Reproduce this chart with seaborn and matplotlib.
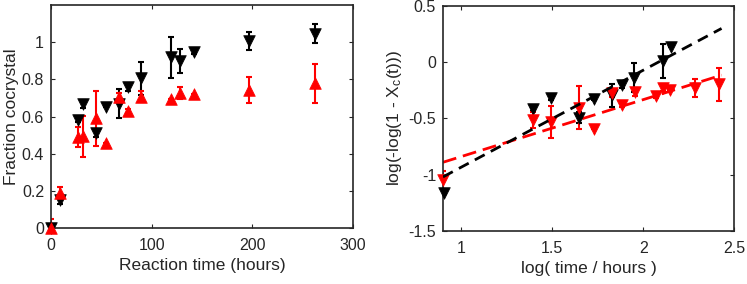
import numpy as np
import pandas as pd
import matplotlib
matplotlib.use("Agg")
import matplotlib.pyplot as plt
import seaborn as sns

# left panel: fraction cocrystal vs reaction time
time_black = [0, 9, 26.5, 32, 44.7, 54.6, 67.8, 77, 89.4, 119, 128.4, 142, 197, 262]
frac_black = [0.0, 0.15, 0.58, 0.667, 0.51, 0.65, 0.67, 0.757, 0.805, 0.92, 0.90, 0.948, 1.007, 1.047]
err_black = [0.0, 0.02, 0.01, 0.02, 0.02, 0.0, 0.08, 0.02, 0.09, 0.11, 0.065, 0.01, 0.05, 0.05]

time_red = [0, 9, 26.5, 32, 44.7, 54.6, 67.8, 77, 89.4, 119, 128.4, 142, 197, 262]
frac_red = [0.0, 0.19, 0.49, 0.495, 0.59, 0.458, 0.706, 0.63, 0.706, 0.694, 0.727, 0.719, 0.742, 0.78]
err_red = [0.05, 0.03, 0.055, 0.11, 0.15, 0.0, 0.02, 0.01, 0.03, 0.0, 0.03, 0.0, 0.07, 0.105]

# right panel: log(-log(1 - Xc)) vs log time
logt_black = [0.903, 1.397, 1.495, 1.645, 1.727, 1.828, 1.883, 1.947, 2.106, 2.152]
avr_black = [-1.16, -0.42, -0.315, -0.494, -0.33, -0.295, -0.205, -0.137, 0.012, 0.131]
avr_err_black = [0.01, 0.01, 0.02, 0.05, 0.01, 0.1, 0.02, 0.13, 0.15, 0.0]

logt_red = [0.90, 1.397, 1.495, 1.645, 1.727, 1.828, 1.883, 1.956, 2.07, 2.106, 2.148, 2.286, 2.418]
avr_red = [-1.045, -0.515, -0.533, -0.405, -0.59, -0.277, -0.384, -0.265, -0.30, -0.226, -0.25, -0.226, -0.196]
avr_err_red = [0.08, 0.07, 0.145, 0.19, 0.0, 0.03, 0.01, 0.04, 0.02, 0.03, 0.01, 0.08, 0.145]

# fitted lines (end points)
fit_x = [0.9, 2.43]
fit_black = [-1.02, 0.30]
fit_red = [-0.89, -0.115]

sns.set_style("ticks")
plt.rcParams['font.family'] = ['Liberation Sans', 'DejaVu Sans']
plt.rcParams['mathtext.fontset'] = 'custom'
plt.rcParams['mathtext.rm'] = 'Liberation Sans'
plt.rcParams['mathtext.it'] = 'Liberation Sans'

fig = plt.figure(figsize=(7.47, 2.84), dpi=100)
ax1 = fig.add_axes([0.0683, 0.197, 0.404, 0.785])
ax2 = fig.add_axes([0.593, 0.187, 0.390, 0.792])

RED = '#FF0000'
BLACK = '#000000'
MS = 70

# ---- left panel
ax1.errorbar(time_black, frac_black, yerr=err_black, fmt='none', ecolor=BLACK,
             elinewidth=1.5, capsize=2.5, capthick=1.5, zorder=2)
ax1.errorbar(time_red, frac_red, yerr=err_red, fmt='none', ecolor=RED,
             elinewidth=1.5, capsize=2.5, capthick=1.5, zorder=2)
sns.scatterplot(x=time_black, y=frac_black, marker='v', color=BLACK, s=MS,
                edgecolor=BLACK, linewidth=0.5, ax=ax1, zorder=3, clip_on=False)
sns.scatterplot(x=time_red, y=frac_red, marker='^', color=RED, s=MS,
                edgecolor=RED, linewidth=0.5, ax=ax1, zorder=3, clip_on=False)
ax1.set_xlim(0, 300)
ax1.set_ylim(0, 1.2)
ax1.set_xticks([0, 100, 200, 300])
ax1.set_yticks([0, 0.2, 0.4, 0.6, 0.8, 1.0])
ax1.set_yticklabels(['0', '0.2', '0.4', '0.6', '0.8', '1'])
ax1.set_xlabel('Reaction time (hours)', fontsize=12.5, labelpad=4)
ax1.set_ylabel('Fraction cocrystal', fontsize=12.5, labelpad=2)

# ---- right panel
sns.lineplot(x=fit_x, y=fit_black, color=BLACK, linewidth=2, ax=ax2, zorder=4)
sns.lineplot(x=fit_x, y=fit_red, color=RED, linewidth=2, ax=ax2, zorder=1)
ax2.lines[0].set_dashes([4, 2.5])
ax2.lines[1].set_dashes([5, 2.5])
ax2.errorbar(logt_black, avr_black, yerr=avr_err_black, fmt='none', ecolor=BLACK,
             elinewidth=1.5, capsize=2.5, capthick=1.5, zorder=2)
ax2.errorbar(logt_red, avr_red, yerr=avr_err_red, fmt='none', ecolor=RED,
             elinewidth=1.5, capsize=2.5, capthick=1.5, zorder=2)
sns.scatterplot(x=logt_black, y=avr_black, marker='v', color=BLACK, s=MS,
                edgecolor=BLACK, linewidth=0.5, ax=ax2, zorder=3, clip_on=False)
sns.scatterplot(x=logt_red, y=avr_red, marker='v', color=RED, s=MS,
                edgecolor=RED, linewidth=0.5, ax=ax2, zorder=3, clip_on=False)
ax2.set_xlim(0.9, 2.5)
ax2.set_ylim(-1.5, 0.5)
ax2.set_xticks([1, 1.5, 2, 2.5])
ax2.set_xticklabels(['1', '1.5', '2', '2.5'])
ax2.set_yticks([-1.5, -1, -0.5, 0, 0.5])
ax2.set_yticklabels(['-1.5', '-1', '-0.5', '0', '0.5'])
ax2.set_xlabel('log( time / hours )', fontsize=12.5, labelpad=4)
ax2.set_ylabel(r'log(-log(1 - X$_{\mathrm{c}}$(t)))', fontsize=12.5, labelpad=3)

for ax in (ax1, ax2):
    for sp in ax.spines.values():
        sp.set_visible(True)
        sp.set_color('#262626')
        sp.set_linewidth(1.2)
    ax.tick_params(direction='in', top=True, right=True, length=3,
                   width=0.8, labelsize=11.5, colors='#262626')
    ax.tick_params(axis='x', pad=7)
    ax.tick_params(axis='y', pad=5)
    for lbl in ax.get_xticklabels() + ax.get_yticklabels():
        lbl.set_color('#262626')

fig.savefig('out.png', dpi=100)
